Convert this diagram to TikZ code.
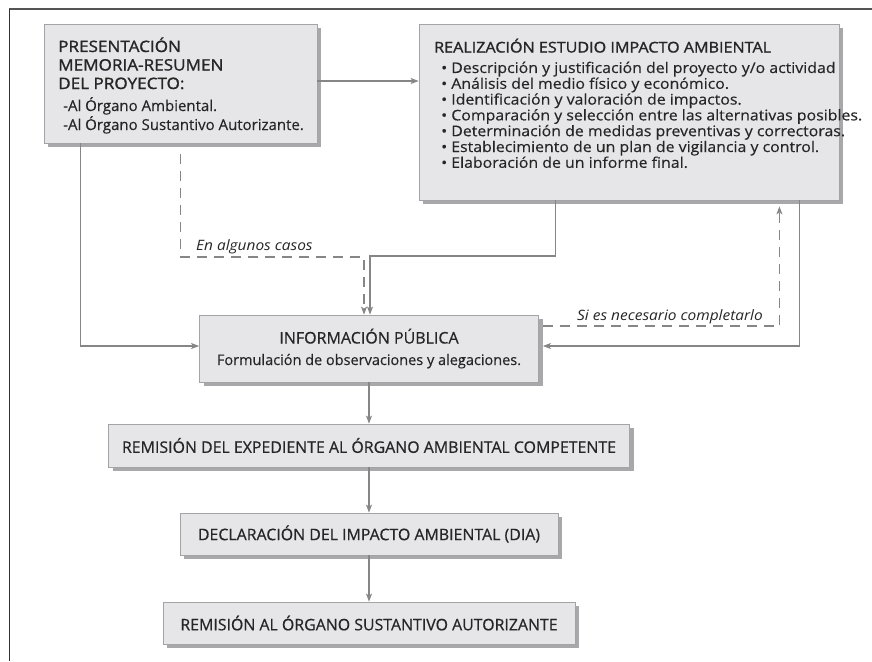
\documentclass[tikz,border=0pt]{standalone}
\usepackage{fontspec}
\setmainfont{Open Sans}
\newfontfamily\hdfont[FakeBold=1.4,FakeStretch=1.09]{Open Sans}
\newfontfamily\mdfont[FakeBold=0.6]{Open Sans}
\newfontfamily\rgfont[FakeBold=0.3]{Open Sans}
\newfontfamily\blfont[FakeBold=0.3,FakeStretch=1.08]{Open Sans}
\newfontfamily\labfont[FakeStretch=1.08]{Open Sans}
\usetikzlibrary{arrows.meta,shadows}
\definecolor{boxfill}{HTML}{E6E6E8}
\definecolor{boxline}{HTML}{A4A4A6}
\definecolor{shadowc}{HTML}{A8A8AA}
\definecolor{linec}{HTML}{868686}
\definecolor{txt}{HTML}{262626}
\definecolor{framec}{HTML}{555555}
\begin{document}
\begin{tikzpicture}[x=1pt,y=-1pt,
  box/.style={draw=boxline, fill=boxfill, line width=0.8pt, inner sep=0pt,
    general shadow={fill=shadowc, shadow xshift=4pt, shadow yshift=-4pt}},
  hd/.style={anchor=base west, inner sep=0pt, text=txt, font=\hdfont\fontsize{15.7}{18}\selectfont},
  it/.style={anchor=base west, inner sep=0pt, text=txt, font=\rgfont\fontsize{15}{18}\selectfont},
  bl/.style={anchor=base west, inner sep=0pt, text=txt, font=\blfont\fontsize{14.7}{16}\selectfont},
  lab/.style={anchor=base west, inner sep=0pt, text=txt, font=\labfont\itshape\fontsize{14.3}{16}\selectfont},
  btxt/.style={text=txt, font=\mdfont\fontsize{15.9}{18}\selectfont},
  arr/.style={draw=linec, line width=1.1pt, -{Stealth[length=8pt,width=6pt,inset=2pt]}},
  dsh/.style={draw=linec, line width=1.1pt, dash pattern=on 10pt off 7pt},
  darr/.style={dsh, -{Stealth[length=8pt,width=6pt,inset=2pt]}}
]
\useasboundingbox (0,0) rectangle (872,661);
% frame
\draw[framec, line width=2pt] (9,9) -- (872,9);
\draw[black!80, line width=1pt] (9,9) -- (9,661);

% boxes
\node[box, minimum width=273pt, minimum height=119pt] (b1) at (180.5,83.5) {};
\node[box, minimum width=420pt, minimum height=176pt] (b2) at (629,112) {};
\node[box, minimum width=339pt, minimum height=67pt] (info) at (369,348.5) {};
\node[box, btxt, minimum width=521pt, minimum height=43pt] (rem) at (369,445.5) {REMISIÓN DEL EXPEDIENTE AL ÓRGANO AMBIENTAL COMPETENTE};
\node[box, btxt, minimum width=378pt, minimum height=42pt] (dec) at (369,534) {DECLARACIÓN DEL IMPACTO AMBIENTAL (DIA)};
\node[box, btxt, minimum width=412pt, minimum height=42pt] (ral) at (369,623) {REMISIÓN AL ÓRGANO SUSTANTIVO AUTORIZANTE};

% box 1 text
\node[hd] (t1a) at (58,52) {PRESENTACIÓN};
\node[hd] (t1b) at (58,70.5) {MEMORIA-RESUMEN};
\node[hd] (t1c) at (58,89) {DEL PROYECTO:};
\node[it] (t1d) at (63,111) {-Al Órgano Ambiental.};
\node[it] (t1e) at (63,130) {-Al Órgano Sustantivo Autorizante.};

% box 2 text
\node[hd, font=\hdfont\fontsize{14.8}{18}\selectfont] (t2) at (434,52.5) {REALIZACIÓN ESTUDIO IMPACTO AMBIENTAL};
\node[bl] (u1) at (441,73)    {• Descripción y justificación del proyecto y/o actividad};
\node[bl] (u2) at (441,88.8)  {• Análisis del medio físico y económico.};
\node[bl] (u3) at (441,104.6) {• Identificación y valoración de impactos.};
\node[bl] (u4) at (441,120.4) {• Comparación y selección entre las alternativas posibles.};
\node[bl] (u5) at (441,136.2) {• Determinación de medidas preventivas y correctoras.};
\node[bl] (u6) at (441,152)   {• Establecimiento de un plan de vigilancia y control.};
\node[bl] (u7) at (441,167.8) {• Elaboración de un informe final.};

% info text
\node[anchor=base, inner sep=0pt, text=txt, font=\mdfont\fontsize{16}{18}\selectfont] (ia) at (369,343.5) {INFORMACIÓN PÚBLICA};
\node[anchor=base, inner sep=0pt, text=txt, font=\rgfont\fontsize{14.5}{18}\selectfont] (ib) at (369,365) {Formulación de observaciones y alegaciones.};

% labels
\node[lab] (l1) at (196,250) {En algunos casos};
\node[lab] (l2) at (577,320) {Si es necesario completarlo};

% junction points
\coordinate (jd) at (364,257);
\coordinate (js) at (370,256);

% connectors
\draw[arr] ([yshift=2.5pt]b1.east) -- ([yshift=2.5pt]b1.east -| b2.west);
\draw[arr] ([xshift=37pt]b1.south west) |- ([yshift=2.5pt]info.west);
\draw[darr] ([yshift=-11pt]b1.south) |- (jd) -- (jd |- info.north);
\draw[arr] ([xshift=137pt]b2.south west) |- (js) -- (js |- info.north);
\draw[arr] ([xshift=-40pt]b2.south east) |- ([xshift=4pt,yshift=2.5pt]info.east);
\draw[darr] ([xshift=4pt,yshift=22.5pt]info.east) -| ([xshift=-60pt,yshift=-6pt]b2.south east);
\draw[arr] (info.south) -- (rem.north);
\draw[arr] (rem.south) -- (dec.north);
\draw[arr] (dec.south) -- (ral.north);
\end{tikzpicture}
\end{document}
